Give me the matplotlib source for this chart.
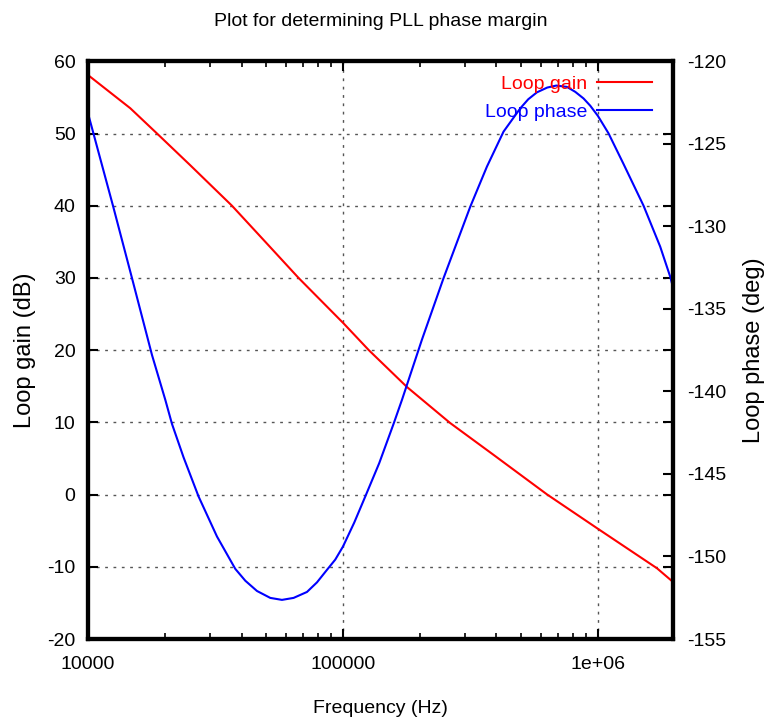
import matplotlib
matplotlib.use("Agg")
import matplotlib.pyplot as plt
from matplotlib.ticker import LogLocator, NullFormatter

# values
gain_freq = [1.0e4, 1.465e4, 1.865e4, 2.519e4, 3.67e4, 4.96e4, 6.697e4, 1.006e5,
             1.263e5, 1.782e5, 2.635e5, 3.896e5, 6.327e5, 1.006e6, 1.704e6, 1.97e6]
gain_db = [58.1, 53.5, 50.0, 45.6, 40.0, 35.0, 30.0, 23.7,
           20.0, 14.9, 9.9, 5.5, 0.0, -4.8, -10.2, -12.1]

phase_freq = [1.0e4, 1.256e4, 1.488e4, 1.782e4, 2.010e4, 2.135e4, 2.371e4,
              2.715e4, 3.205e4, 3.781e4, 4.140e4, 4.599e4, 5.187e4, 5.765e4,
              6.403e4, 7.225e4, 7.907e4, 8.655e4, 9.328e4, 1.0e5, 1.107e5,
              1.223e5, 1.388e5, 1.579e5, 1.704e5, 2.040e5, 2.480e5, 3.157e5,
              3.670e5, 4.264e5, 4.959e5, 5.330e5, 5.765e5, 6.328e5, 6.864e5,
              7.557e5, 8.147e5, 8.780e5, 9.329e5, 1.0e6, 1.100e6, 1.260e6,
              1.510e6, 1.755e6, 1.921e6, 1.97e6]
phase_deg = [-123.15, -128.81, -133.14, -137.79, -140.51, -141.97, -144.0,
             -146.37, -148.79, -150.75, -151.47, -152.09, -152.51, -152.63,
             -152.51, -152.15, -151.57, -150.81, -150.19, -149.40, -147.95,
             -146.37, -144.34, -141.97, -140.51, -136.87, -133.14, -128.81,
             -126.38, -124.26, -122.85, -122.30, -121.88, -121.59, -121.47,
             -121.55, -121.85, -122.25, -122.69, -123.31, -124.36, -126.22,
             -128.75, -131.23, -133.05, -133.7]

xticks = [1e4, 1e5, 1e6]
xlabels = ["10000", "100000", "1e+06"]
yticks = [60, 50, 40, 30, 20, 10, 0, -10, -20]
y2ticks = [-120, -125, -130, -135, -140, -145, -150, -155]

plt.rcParams["font.family"] = ["Liberation Sans", "DejaVu Sans"]
plt.rcParams["axes.unicode_minus"] = False

fig = plt.figure(figsize=(7.66, 7.22), dpi=100)
ax = fig.add_axes([88/766, 1-639/722, (673-88)/766, (639-61.3)/722])
ax2 = ax.twinx()

l1, = ax.plot(gain_freq, gain_db, color="#ff0000", lw=1.5, label="Loop gain")
l2, = ax2.plot(phase_freq, phase_deg, color="#0000ff", lw=1.5, label="Loop phase")

ax.set_xscale("log")
ax.set_xlim(1e4, 1.97e6)
ax.set_ylim(-20, 60)
ax2.set_ylim(-155, -120)

ax.set_xticks(xticks)
ax.set_xticklabels(xlabels)
ax.xaxis.set_minor_locator(LogLocator(base=10, subs=range(2, 10)))
ax.xaxis.set_minor_formatter(NullFormatter())
ax.set_yticks(yticks)
ax2.set_yticks(y2ticks)

ax.tick_params(axis="both", which="major", direction="in", length=7, width=1.5,
               labelsize=14, pad=12, top=True, right=True, labelright=False)
ax.tick_params(axis="y", pad=9)
ax.tick_params(axis="x", which="minor", direction="in", length=4, width=1.2,
               top=True)
ax2.tick_params(axis="y", direction="in", length=7, width=1.5, labelsize=14, pad=10)

for a in (ax, ax2):
    for s in a.spines.values():
        s.set_linewidth(3)
        s.set_color("black")

ax.grid(True, which="major", color="#555555", linestyle=(0, (2, 4)), lw=1)

fig.text(380.5/766, 1-22/722, "Plot for determining PLL phase margin",
         fontsize=14, ha="center", va="center")
ax.set_xlabel("Frequency (Hz)", fontsize=14, labelpad=20)
ax.set_ylabel("Loop gain (dB)", fontsize=17, labelpad=8)
ax2.set_ylabel("Loop phase (deg)", fontsize=17, labelpad=12)

ax2.legend(handles=[l1, l2], loc="upper right", bbox_to_anchor=(1, 1+7/578),
           frameon=False, markerfirst=False,
           labelcolor="linecolor", fontsize=14, handlelength=2.8,
           labelspacing=0.5, borderaxespad=0.7, handletextpad=0.5)

fig.savefig("out.png", dpi=100)
